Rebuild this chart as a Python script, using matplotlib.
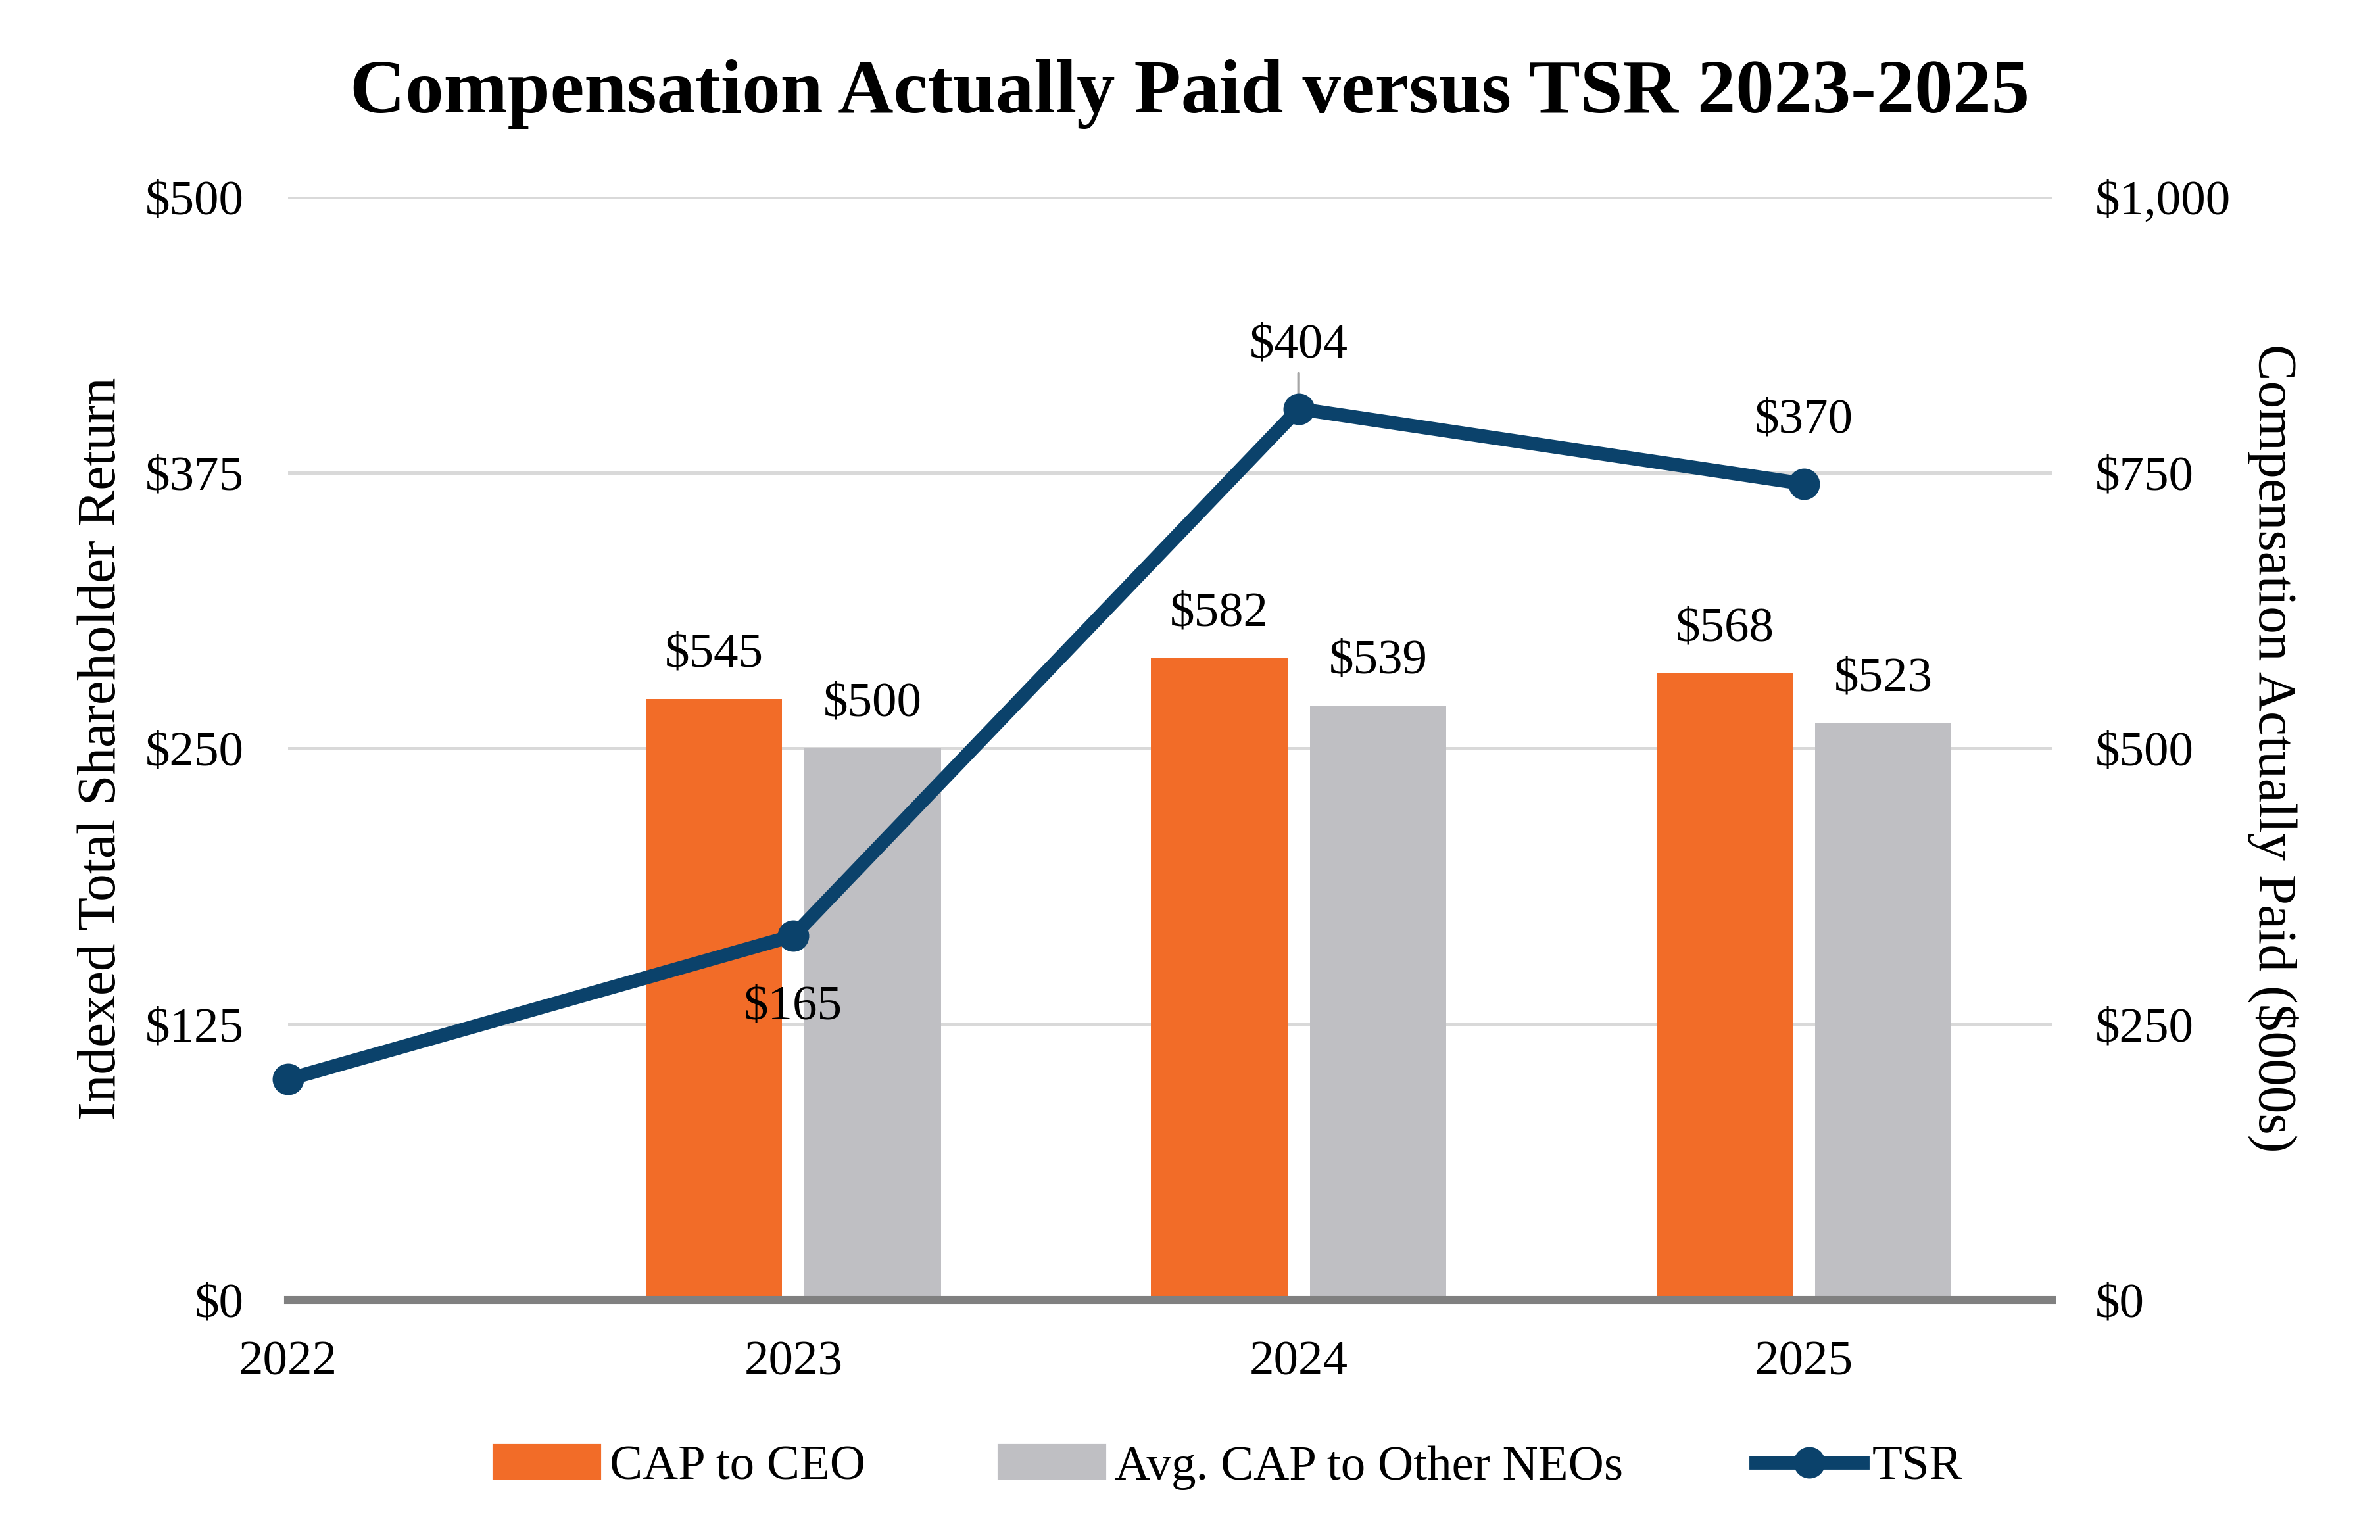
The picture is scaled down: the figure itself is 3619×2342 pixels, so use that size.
import numpy as np
import matplotlib
matplotlib.use("Agg")
import matplotlib.pyplot as plt
from matplotlib.lines import Line2D
from matplotlib.patches import Patch

# data
years = ["2022", "2023", "2024", "2025"]
tsr = [100, 165, 404, 370]                 # indexed TSR, left axis
cap_years = ["2023", "2024", "2025"]
cap_ceo = [545, 582, 568]                  # $000s, right axis
cap_neo = [500, 539, 523]

ORANGE = "#F26C28"
GREY = "#BFBFC3"
NAVY = "#0B426B"
FS = 18

plt.rcParams["font.family"] = ["Liberation Serif", "DejaVu Serif"]

fig = plt.figure(figsize=(3619 / 300, 2342 / 300), dpi=300)
pos = [0.121, 0.156, 0.741, 0.716]
ax2 = fig.add_axes(pos)                    # CAP axis, holds bars + grid
ax = fig.add_axes(pos, sharex=ax2)         # TSR axis drawn on top
ax.patch.set_visible(False)

x_line = np.arange(len(years))
x_bar = np.array([years.index(y) for y in cap_years])
w = 0.27
off = 0.157

b1 = ax2.bar(x_bar - off, cap_ceo, w, color=ORANGE, zorder=2)
b2 = ax2.bar(x_bar + off, cap_neo, w, color=GREY, zorder=2)
for bars, vals in ((b1, cap_ceo), (b2, cap_neo)):
    for r, v in zip(bars, vals):
        ax2.annotate(f"${v:,}", (r.get_x() + r.get_width() / 2, v),
                     xytext=(0, 8), textcoords="offset points",
                     ha="center", va="bottom", fontsize=FS)

ax.plot(x_line, tsr, color=NAVY, lw=5, marker="o", ms=10.5,
        clip_on=False, zorder=5)
# point labels (2022 has none)
ax.annotate(f"${tsr[1]}", (x_line[1], tsr[1]), xytext=(0, -18),
            textcoords="offset points", ha="center", va="top", fontsize=FS)
ax.annotate(f"${tsr[2]}", (x_line[2], tsr[2]), xytext=(0, 15),
            textcoords="offset points", ha="center", va="bottom", fontsize=FS,
            arrowprops=dict(arrowstyle="-", color="#A6A6A6", lw=1,
                            shrinkA=0, shrinkB=0))
ax.annotate(f"${tsr[3]}", (x_line[3], tsr[3]), xytext=(0, 15),
            textcoords="offset points", ha="center", va="bottom", fontsize=FS)

ax.set_xlim(0, 3.49)
ax.set_ylim(0, 500)
ax2.set_ylim(0, 1000)

ax.set_yticks([0, 125, 250, 375, 500])
ax.set_yticklabels([f"${v}" for v in [0, 125, 250, 375, 500]])
ax2.set_yticks([0, 250, 500, 750, 1000])
ax2.set_yticklabels([f"${v:,}" for v in [0, 250, 500, 750, 1000]])
ax2.yaxis.tick_right()
ax.yaxis.tick_left()

ax.set_xticks(x_line)
ax.set_xticklabels(years)
ax2.tick_params(axis="x", labelbottom=False, length=0)

ax.tick_params(axis="y", length=0, pad=16, labelsize=FS)
ax.tick_params(axis="x", length=0, pad=15, labelsize=FS)
ax2.tick_params(axis="y", length=0, pad=16, labelsize=FS)

ax2.grid(axis="y", color="#D9D9D9", lw=1.2, zorder=0)
ax2.set_axisbelow(True)

for a in (ax, ax2):
    for s in a.spines.values():
        s.set_visible(False)
ax.spines["bottom"].set_visible(True)
ax.spines["bottom"].set_color("#808080")
ax.spines["bottom"].set_linewidth(2.9)
ax.spines["bottom"].set_zorder(3)

fig.text(0.043, 0.514, "Indexed Total Shareholder Return", rotation=90,
         ha="center", va="center", fontsize=20)
fig.text(0.955, 0.514, "Compensation Actually Paid ($000s)", rotation=270,
         ha="center", va="center", fontsize=20)

fig.suptitle("Compensation Actually Paid versus TSR 2023-2025",
             x=0.5, y=0.939, va="center", fontsize=28, fontweight="bold")

handles = [Patch(color=ORANGE), Patch(color=GREY),
           Line2D([], [], color=NAVY, lw=5, marker="o", ms=10.5)]
fig.legend(handles, ["CAP to CEO", "Avg. CAP to Other NEOs", "TSR"],
           loc="center", bbox_to_anchor=(0.516, 0.047), ncol=3, frameon=False,
           fontsize=FS, handlelength=2.15, handleheight=0.65,
           columnspacing=2.7, handletextpad=0.2)

fig.savefig("out.png", dpi=300)
